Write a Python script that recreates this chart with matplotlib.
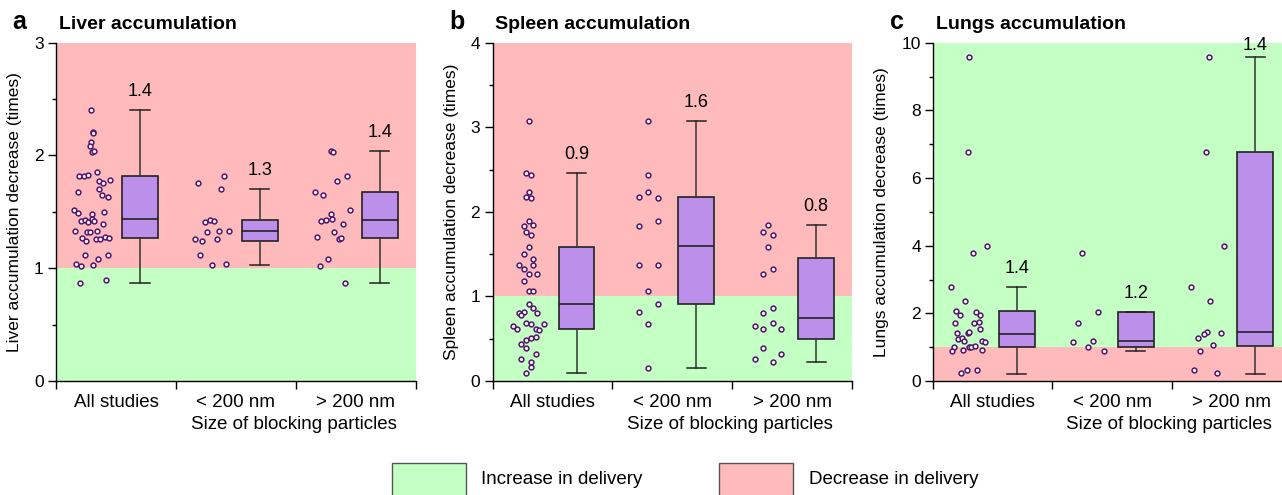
import matplotlib.pyplot as plt
from matplotlib.patches import Rectangle

plt.rcParams['font.family'] = ['Liberation Sans', 'DejaVu Sans']

# Categories
groups = ["All studies", "< 200 nm", "> 200 nm"]

# Liver - scatter points (x is jittered position)
liver_x = [0.29, 0.31, 0.31, 0.29, 0.28, 0.30, 0.32, 0.19, 0.23, 0.27, 0.34, 0.36, 0.39, 0.45,
           0.18, 0.36, 0.38, 0.43, 0.15, 0.18, 0.30, 0.40, 0.21, 0.24, 0.27, 0.30, 0.32, 0.39,
           0.16, 0.26, 0.28, 0.34, 0.22, 0.25, 0.33, 0.37, 0.41, 0.44, 0.24, 0.43, 0.35, 0.17,
           0.21, 0.31, 0.20, 0.42,
           1.40, 1.18, 1.38, 1.24, 1.28, 1.32, 1.26, 1.36, 1.44, 1.16, 1.22, 1.34, 1.20, 1.30, 1.42,
           2.29, 2.31, 2.43, 2.34, 2.16, 2.23, 2.45, 2.29, 2.21, 2.25, 2.30, 2.39, 2.32, 2.36,
           2.38, 2.18, 2.27, 2.20, 2.41]
liver_y = [2.40, 2.21, 2.20, 2.12, 2.08, 2.03, 2.04, 1.82, 1.82, 1.83, 1.85, 1.77, 1.76, 1.78,
           1.68, 1.70, 1.65, 1.63, 1.52, 1.49, 1.48, 1.50, 1.42, 1.43, 1.41, 1.44, 1.42, 1.39,
           1.33, 1.32, 1.32, 1.33, 1.27, 1.24, 1.26, 1.26, 1.28, 1.27, 1.12, 1.12, 1.08, 1.04,
           1.02, 1.03, 0.87, 0.90,
           1.82, 1.76, 1.70, 1.41, 1.43, 1.42, 1.32, 1.33, 1.33, 1.26, 1.24, 1.26, 1.12, 1.03, 1.04,
           2.04, 2.03, 1.82, 1.77, 1.68, 1.65, 1.52, 1.48, 1.42, 1.43, 1.44, 1.39, 1.32, 1.26,
           1.27, 1.28, 1.08, 1.02, 0.87]

# Spleen
spleen_x = [0.30, 0.28, 0.32, 0.30, 0.28, 0.32, 0.30, 0.26, 0.34, 0.28, 0.32, 0.30, 0.26, 0.34,
            0.22, 0.26, 0.34, 0.30, 0.37, 0.26, 0.30, 0.34, 0.30, 0.34, 0.22, 0.26, 0.24, 0.37,
            0.17, 0.20, 0.28, 0.32, 0.36, 0.39, 0.43, 0.32, 0.36, 0.28, 0.24, 0.28, 0.36, 0.24,
            0.32, 0.32, 0.28,
            1.30, 1.30, 1.22, 1.30, 1.38, 1.22, 1.38, 1.22, 1.38, 1.30, 1.38, 1.22, 1.30, 1.30,
            2.30, 2.26, 2.34, 2.30, 2.26, 2.34, 2.26, 2.34, 2.19, 2.26, 2.34, 2.41, 2.26, 2.41,
            2.19, 2.34]
spleen_y = [3.07, 2.46, 2.43, 2.23, 2.18, 2.16, 1.89, 1.83, 1.84, 1.76, 1.73, 1.58, 1.50, 1.44,
            1.37, 1.32, 1.37, 1.27, 1.27, 1.18, 1.07, 1.06, 0.91, 0.86, 0.80, 0.82, 0.78, 0.80,
            0.65, 0.62, 0.69, 0.67, 0.62, 0.60, 0.67, 0.51, 0.52, 0.49, 0.44, 0.39, 0.32, 0.26,
            0.22, 0.16, 0.10,
            3.07, 2.43, 2.18, 2.23, 2.16, 1.83, 1.89, 1.37, 1.37, 1.06, 0.91, 0.82, 0.67, 0.15,
            1.84, 1.76, 1.73, 1.58, 1.27, 1.32, 0.80, 0.86, 0.65, 0.62, 0.69, 0.61, 0.39, 0.32,
            0.26, 0.22]

# Lungs
lungs_x = [0.30, 0.29, 0.45, 0.33, 0.15, 0.27, 0.19, 0.22, 0.36, 0.39, 0.18, 0.34, 0.38, 0.39,
           0.20, 0.29, 0.30, 0.21, 0.24, 0.26, 0.41, 0.43, 0.17, 0.30, 0.32, 0.35, 0.16, 0.25,
           0.41, 0.23, 0.28, 0.37,
           1.25, 1.38, 1.21, 1.17, 1.34, 1.30, 1.43,
           2.31, 2.29, 2.44, 2.16, 2.32, 2.30, 2.27, 2.41, 2.22, 2.35, 2.24, 2.19, 2.38]
lungs_y = [9.59, 6.76, 4.00, 3.79, 2.78, 2.37, 2.07, 1.94, 2.04, 1.95, 1.71, 1.70, 1.74, 1.53,
           1.41, 1.41, 1.46, 1.23, 1.28, 1.18, 1.19, 1.15, 1.01, 1.00, 1.00, 1.02, 0.90, 0.91,
           0.91, 0.23, 0.32, 0.33,
           3.79, 2.04, 1.70, 1.14, 1.18, 1.00, 0.90,
           9.59, 6.76, 4.00, 2.78, 2.37, 1.45, 1.40, 1.42, 1.28, 1.06, 0.90, 0.33, 0.23]

# Box stats: (min, q1, median, q3, max)
liver_box = [(0.87, 1.27, 1.44, 1.82, 2.40), (1.03, 1.24, 1.33, 1.43, 1.70), (0.87, 1.27, 1.43, 1.68, 2.04)]
spleen_box = [(0.10, 0.62, 0.91, 1.58, 2.46), (0.15, 0.91, 1.60, 2.18, 3.07), (0.22, 0.50, 0.74, 1.45, 1.84)]
lungs_box = [(0.22, 1.00, 1.40, 2.06, 2.77), (0.89, 1.00, 1.17, 2.04, 2.04), (0.22, 1.03, 1.44, 6.76, 9.59)]

liver_labels = ["1.4", "1.3", "1.4"]
spleen_labels = ["0.9", "1.6", "0.8"]
lungs_labels = ["1.4", "1.2", "1.4"]

# Colours
green = "#C4FFC4"
pink = "#FFBBBB"
box_color = "#BB8FEA"
dot_color = "#52146E"

fig = plt.figure(figsize=(12.82, 4.95), dpi=100)

panels = [
    ("a", "Liver accumulation", "Liver accumulation decrease (times)", liver_x, liver_y, liver_box,
     liver_labels, 3, 1, 0.5, False, [0.0437, 0.2806], -0.094),
    ("b", "Spleen accumulation", "Spleen accumulation decrease (times)", spleen_x, spleen_y, spleen_box,
     spleen_labels, 4, 1, 0.5, False, [0.3843, 0.2803], -0.094),
    ("c", "Lungs accumulation", "Lungs accumulation decrease (times)", lungs_x, lungs_y, lungs_box,
     lungs_labels, 10, 2, 1, True, [0.7280, 0.2789], -0.125),
]

for letter, title, ylabel, xs, ys, boxes, labels, ymax, major, minor, lungs, (left, width), ylab_x in panels:
    ax = fig.add_axes([left, 0.2303, width, 0.6834])

    # background: green = increase in delivery, pink = decrease
    if lungs:
        ax.axhspan(0, 1, color=pink, lw=0, zorder=0)
        ax.axhspan(1, ymax, color=green, lw=0, zorder=0)
    else:
        ax.axhspan(0, 1, color=green, lw=0, zorder=0)
        ax.axhspan(1, ymax, color=pink, lw=0, zorder=0)

    ax.scatter(xs, ys, s=12, facecolor="white", edgecolor=dot_color, linewidths=1.1, zorder=3)

    stats = []
    for lo, q1, med, q3, hi in boxes:
        stats.append({"whislo": lo, "q1": q1, "med": med, "q3": q3, "whishi": hi, "fliers": []})
    ax.bxp(stats, positions=[0.7, 1.7, 2.7], widths=0.3, capwidths=0.16, showfliers=False,
           patch_artist=True,
           boxprops=dict(facecolor=box_color, edgecolor="#222222", linewidth=1.2),
           medianprops=dict(color="#222222", linewidth=1.2),
           whiskerprops=dict(color="#333333", linewidth=1.1),
           capprops=dict(color="#222222", linewidth=1.1),
           zorder=4)

    for i, (b, lab) in enumerate(zip(boxes, labels)):
        ytxt = min(b[4] + 0.03 * ymax, 0.967 * ymax)
        ax.text(0.7 + i, ytxt, lab, ha="center", va="bottom", fontsize=13, zorder=5)

    ax.set_xlim(0, 3)
    ax.set_ylim(0, ymax)
    ax.set_yticks(range(0, ymax + 1, major))
    ax.set_yticks([v * minor for v in range(1, int(ymax / minor)) if (v * minor) % major != 0], minor=True)
    ax.set_xticks([0, 1, 2, 3])
    ax.set_xticklabels([])
    ax.set_xticks([0.5, 1.5, 2.5], minor=True)
    ax.set_xticklabels(groups, minor=True)
    ax.tick_params(axis="x", which="major", length=6, width=1)
    ax.tick_params(axis="x", which="minor", length=0, pad=9, labelsize=13.5)
    ax.tick_params(axis="y", which="major", length=6, width=1, pad=3, labelsize=12.5)
    ax.tick_params(axis="y", which="minor", length=3, width=1)

    for s in ["top", "right"]:
        ax.spines[s].set_visible(False)
    for s in ["left", "bottom"]:
        ax.spines[s].set_linewidth(1)

    ax.set_ylabel(ylabel, fontsize=12.5)
    ax.yaxis.set_label_coords(ylab_x, 0.5)
    ax.text(1.98, -0.128, "Size of blocking particles", transform=ax.get_xaxis_transform(),
            ha="center", va="center", fontsize=13.5)

    # panel letter and title
    pos = ax.get_position()
    fig.text(pos.x0 - 0.034, 0.9408, letter, fontsize=18, fontweight="bold", va="baseline")
    fig.text(pos.x0 + 0.002, 0.9408, title, fontsize=14, fontweight="bold", va="baseline")

# legend at bottom
fig.add_artist(Rectangle((0.3055, -0.05), 0.058, 0.1153, transform=fig.transFigure,
                         facecolor=green, edgecolor="#555555", lw=1))
fig.text(0.375, 0.031, "Increase in delivery", fontsize=13.5, va="center")
fig.add_artist(Rectangle((0.561, -0.05), 0.0577, 0.1153, transform=fig.transFigure,
                         facecolor=pink, edgecolor="#555555", lw=1))
fig.text(0.6313, 0.031, "Decrease in delivery", fontsize=13.5, va="center")

plt.savefig("out.png", dpi=100)
